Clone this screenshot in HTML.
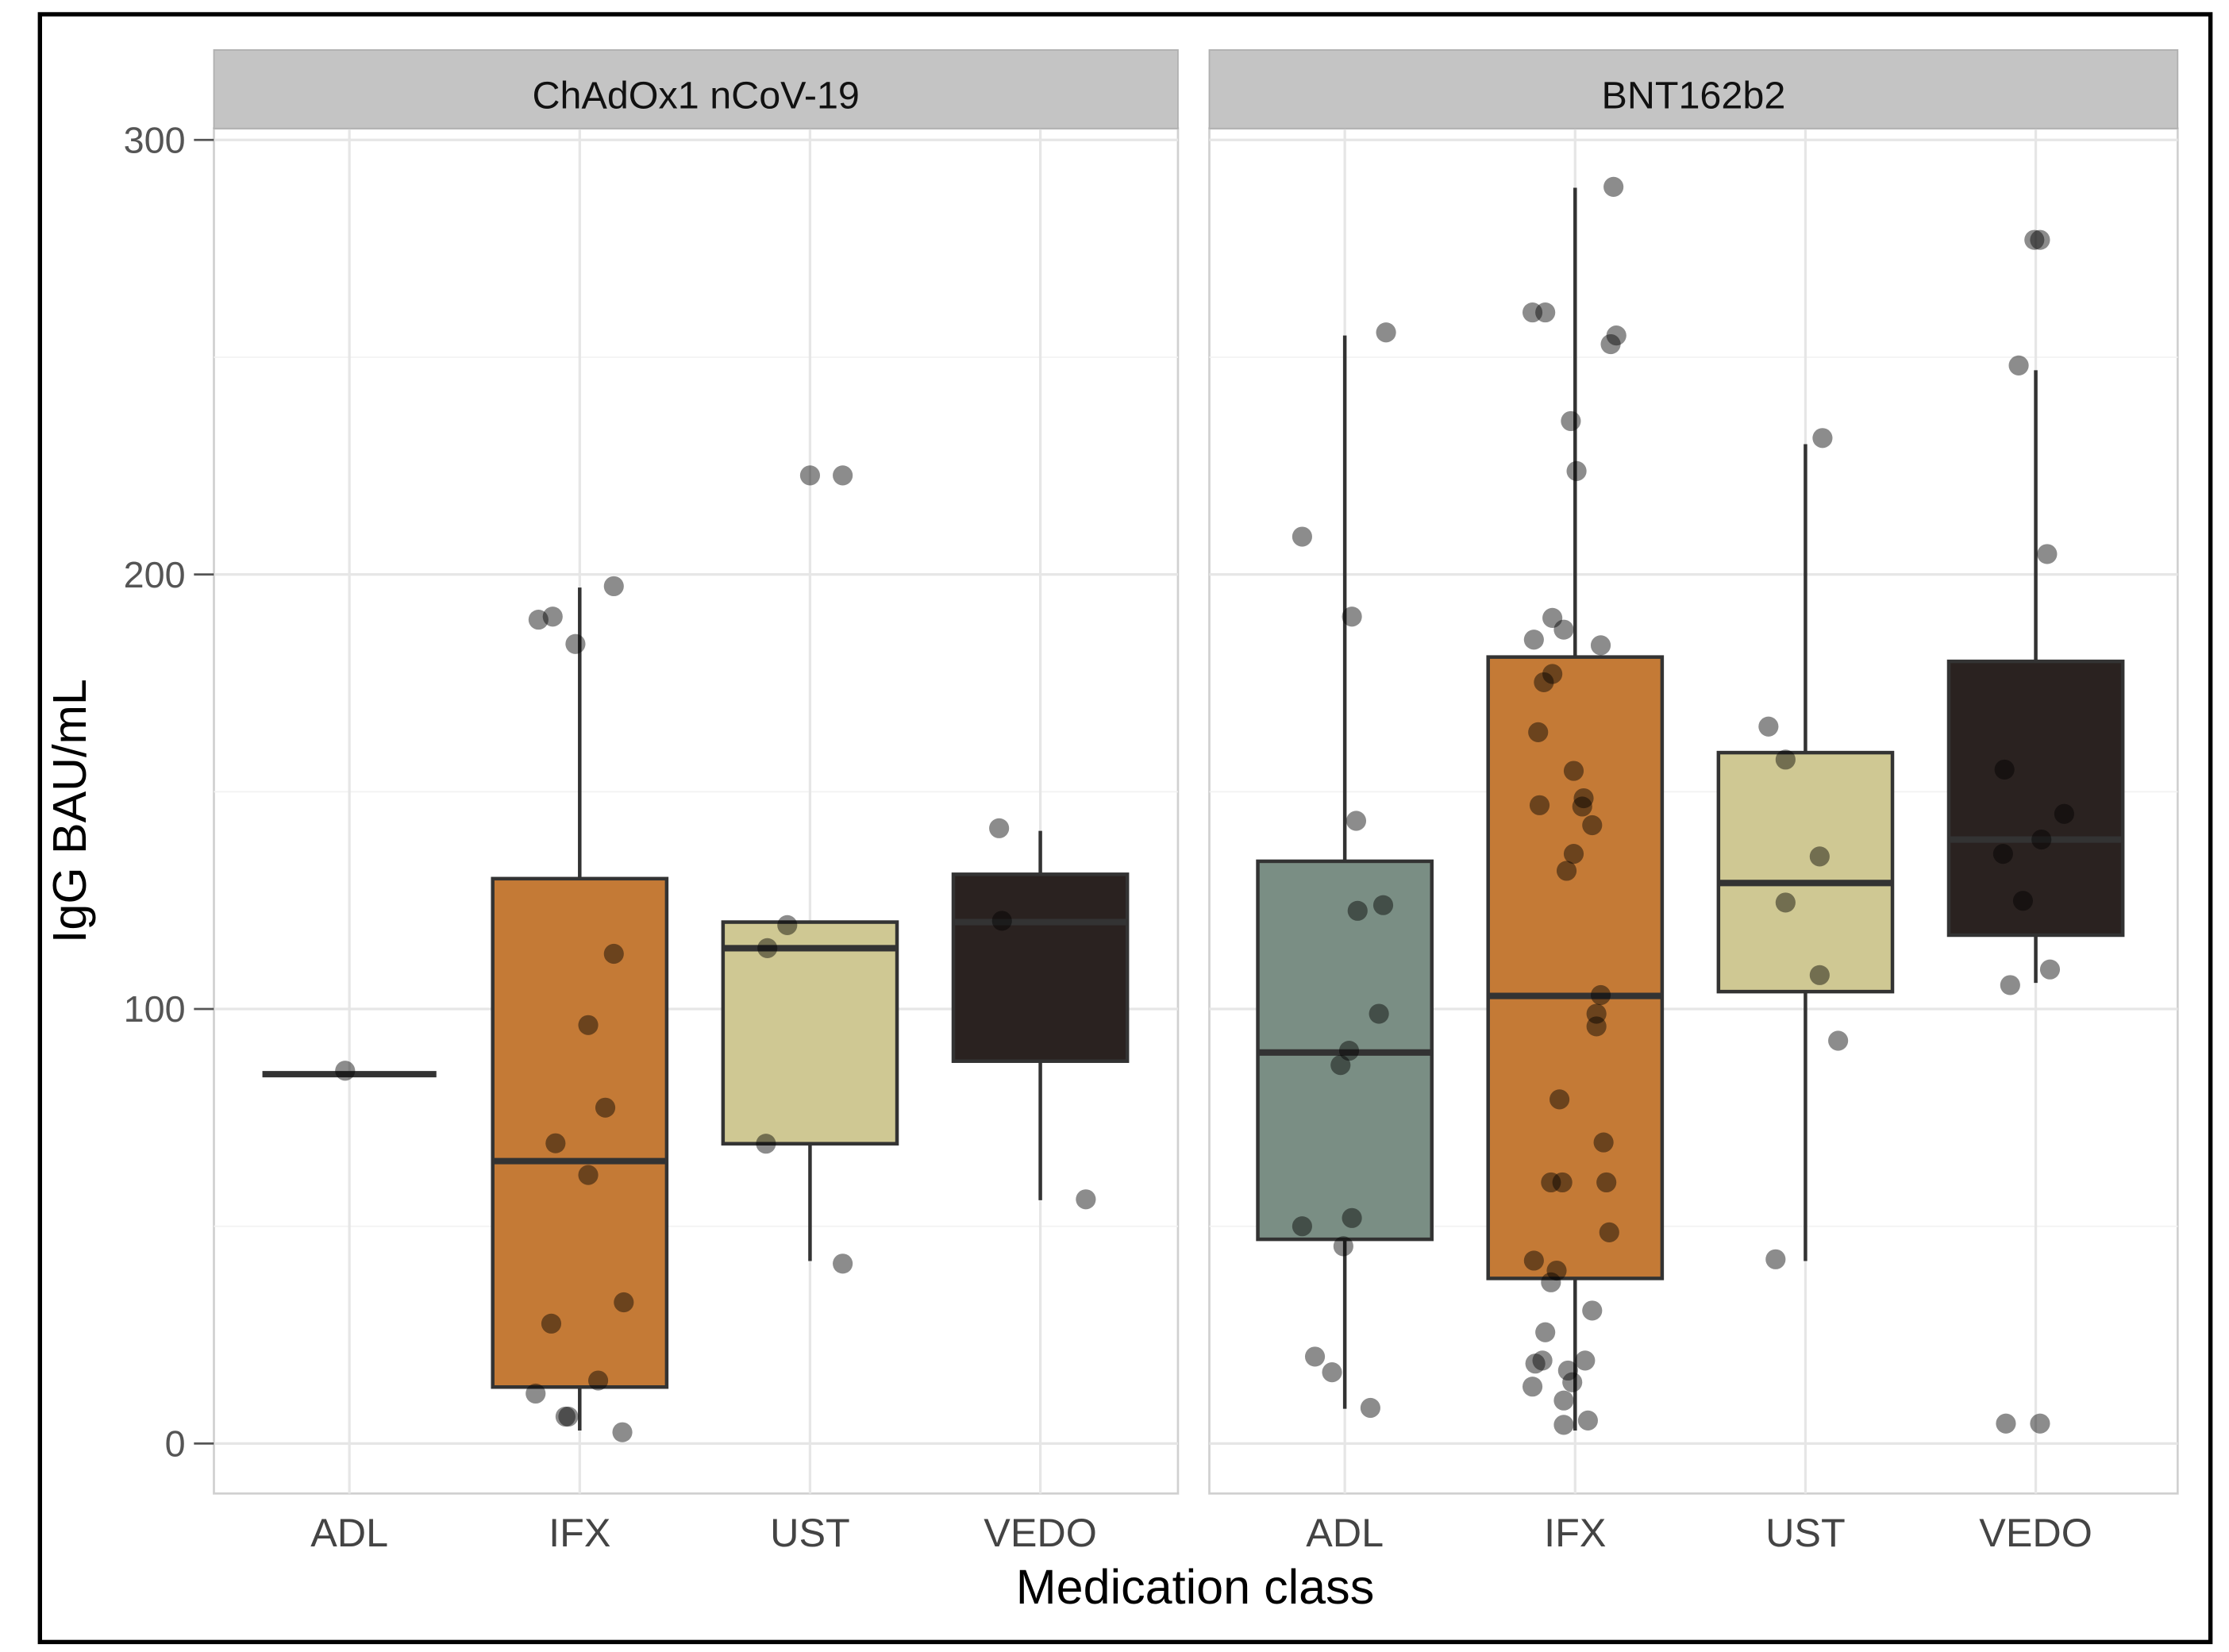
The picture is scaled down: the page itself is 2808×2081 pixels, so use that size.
<!DOCTYPE html>
<html><head><meta charset="utf-8"><style>
html,body{margin:0;padding:0;background:#fff;}
svg{display:block;font-family:"Liberation Sans",sans-serif;}
</style></head><body>
<svg id="chart" width="2808" height="2081" viewBox="0 0 1563 1157" preserveAspectRatio="none" xmlns="http://www.w3.org/2000/svg">
<rect x="28" y="10" width="1522" height="1140" fill="#fff" stroke="#000" stroke-width="3"/>
<g id="g"></g>
</svg>
<script>
const categories=["ADL","IFX","UST","VEDO"];
const panels=["ChAdOx1 nCoV-19","BNT162b2"];
const yTicks=[0,100,200,300];
const colors=["#7A8E84","#C47A36","#CFC893","#2A2220"];
// box stats [panel][cat] = [lowWhisker,q1,median,q3,highWhisker]
const boxP1=[[85,85,85,85,85],[3,13,65,130,197],[42,69,114,120,120],[56,88,120,131,141]];
const boxP2=[[8,47,90,134,255],[3,38,103,181,289],[42,104,129,159,230],[106,117,139,180,247]];
// points: values and jitter (offsets in 1/162 of category spacing)
const p1ADLv=[85.8],p1ADLj=[-3];
const p1IFXv=[189.6,190.3,184,197.3,112.7,96.3,77.3,69.1,61.8,27.6,32.5,14.5,11.5,6.2,6.2,2.6];
const p1IFXj=[-29,-19,-3,24,24,6,18,-17,6,-20,31,13,-31,-10,-8,30];
const p1USTv=[222.8,222.8,119.3,114,69,41.4],p1USTj=[0,23,-16,-30,-31,23];
const p1VEDOv=[141.6,120.3,56.2],p1VEDOj=[-29,-27,32];
const p2ADLv=[208.7,190.3,143.3,123.9,122.6,98.9,90.4,87.1,50,51.9,45.4,20,16.4,8.2,255.7];
const p2ADLj=[-30,5,8,27,9,24,3,-3,-30,5,-1,-21,-9,18,29];
const p2IFXv=[289.2,260.3,260.3,255,253,235.3,223.8,185,190,187.3,183.7,177.1,175.2,163.7,154.8,148.5,146.6,146.9,142.3,135.7,131.8,103.2,98.9,96,79.2,69.3,60.1,60.1,60.1,48.6,42.1,39.8,37.1,30.6,25.6,19.1,18.4,19.1,16.8,13.1,14.1,9.9,5.3,4.3];
const p2IFXj=[27,-30,-21,29,25,-3,1,-29,-16,-8,18,-16,-22,-26,-1,6,5,-25,12,-1,-6,18,15,15,-11,20,-17,-9,22,24,-29,-13,-17,12,-21,-23,-28,7,-5,-30,-2,-8,9,-8];
const p2USTv=[231.4,165,157.4,135.1,124.5,107.8,92.7,42.4],p2USTj=[12,-26,-14,10,-14,10,23,-21];
const p2VEDOv=[277,277,248.1,204.7,155.1,144.9,135.7,139,124.9,109.1,105.5,4.6,4.6];
const p2VEDOj=[-1,3,-12,8,-22,20,-23,4,-9,10,-18,-21,3];
const pts=[[[p1ADLv,p1ADLj],[p1IFXv,p1IFXj],[p1USTv,p1USTj],[p1VEDOv,p1VEDOj]],[[p2ADLv,p2ADLj],[p2IFXv,p2IFXj],[p2USTv,p2USTj],[p2VEDOv,p2VEDOj]]];
const boxes=[boxP1,boxP2];
const NS="http://www.w3.org/2000/svg",g=document.getElementById('g');
function el(t,a,txt){const e=document.createElementNS(NS,t);for(const k in a)e.setAttribute(k,a[k]);if(txt!=null)e.textContent=txt;g.appendChild(e);return e;}
const y=v=>1011-v*3.0433;
const panelX=[150,848],panelW=[676,679],catX0=[245,943],band=161.5;
const x=(p,i)=>catX0[p]+i*band;
for(let p=0;p<2;p++){
  let r=el('rect',{x:panelX[p],y:90,width:panelW[p],height:956,fill:'#fff',stroke:'#d0d0d0','stroke-width':1.5});
  
  for(let v=50;v<=300;v+=100){let l=el('line',{x1:panelX[p],x2:panelX[p]+panelW[p],y1:y(v),y2:y(v),stroke:'#f2f2f2','stroke-width':1});}
  yTicks.forEach(v=>{let l=el('line',{x1:panelX[p],x2:panelX[p]+panelW[p],y1:y(v),y2:y(v),stroke:'#e6e6e6','stroke-width':1.8});});
  categories.forEach((c,i)=>{let l=el('line',{x1:x(p,i),x2:x(p,i),y1:90,y2:1046,stroke:'#e6e6e6','stroke-width':1.8});
    let t=el('text',{x:x(p,i),y:1083,'text-anchor':'middle','font-size':28,fill:'#444'},c);});
  let s=el('rect',{x:panelX[p],y:35,width:panelW[p],height:55,fill:'#c4c4c4',stroke:'#b0b0b0'});
  let st=el('text',{x:panelX[p]+panelW[p]/2,y:76,'text-anchor':'middle','font-size':27,fill:'#111'},panels[p]);
  boxes[p].forEach((b,i)=>{
    const cx=x(p,i),hw=61;
    let w=el('line',{x1:cx,x2:cx,y1:y(b[0]),y2:y(b[4]),stroke:'#333','stroke-width':2.5});
    let bx=el('rect',{x:cx-hw,y:y(b[3]),width:hw*2,height:Math.max(0,y(b[1])-y(b[3])),fill:colors[i],stroke:'#333','stroke-width':2.5});
    let m=el('line',{x1:cx-hw,x2:cx+hw,y1:y(b[2]),y2:y(b[2]),stroke:'#333','stroke-width':4.5});
    const [vs,js]=pts[p][i];
    vs.forEach((v,k)=>{let c=el('circle',{cx:cx+js[k]*band/162,cy:y(v),r:7,fill:'rgba(0,0,0,0.45)'});});
  });
}
yTicks.forEach(v=>{let t=el('text',{x:130,y:y(v)+9,'text-anchor':'end','font-size':26,fill:'#555'},String(v));
  let tk=el('line',{x1:136,x2:150,y1:y(v),y2:y(v),stroke:'#555','stroke-width':1.5});});
let yt=el('text',{x:0,y:0,transform:'translate(60,568) rotate(-90)','text-anchor':'middle','font-size':33,fill:'#000'},'IgG BAU/mL');
let xt=el('text',{x:838,y:1123,'text-anchor':'middle','font-size':34,fill:'#000'},'Medication class');
</script>
</body></html>
